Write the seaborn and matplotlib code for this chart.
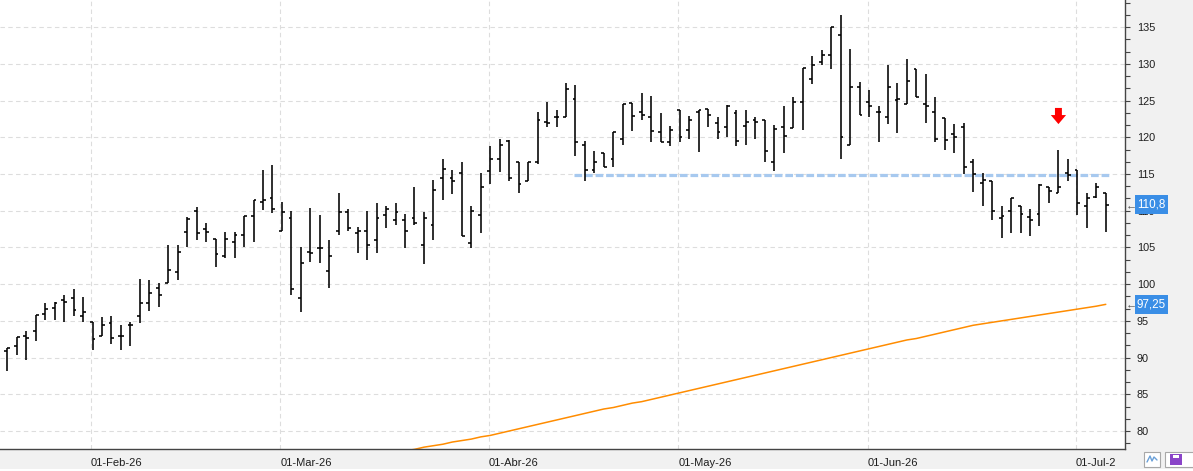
import numpy as np
import pandas as pd
import matplotlib
matplotlib.use('Agg')
import matplotlib.pyplot as plt
import seaborn as sns
from matplotlib.ticker import MultipleLocator
from matplotlib.patches import Rectangle
from matplotlib.transforms import ScaledTranslation, Bbox, TransformedBbox, blended_transform_factory

# trading days (BME holidays removed)
holidays = ['2026-04-03', '2026-04-06', '2026-05-01']
dates = pd.bdate_range('2026-01-20', '2026-07-06')
dates = dates[~dates.isin(pd.to_datetime(holidays))]

opens = [90.9, 91.6, 93.0, 93.6, 96.0, 96.8, 97.8, 98.1, 95.7, 94.9,
         93.0, 94.7, 92.9, 94.4, 95.7, 97.5, 99.5, 100.1, 101.6, 107.1,
         110.0, 107.5, 106.1, 103.8, 105.8, 106.7, 109.3, 111.2, 111.7, 107.2,
         109.0, 98.1, 104.4, 104.9, 101.8, 107.2, 109.8, 106.9, 107.2, 106.0,
         109.4, 108.7, 108.7, 109.0, 105.3, 108.0, 114.5, 114.5, 115.1, 105.6,
         109.4, 115.4, 117.1, 119.5, 116.7, 114.1, 116.7, 122.1, 122.8, 122.7,
         125.2, 118.9, 115.5, 117.9, 117.1, 119.8, 124.7, 123.5, 122.8, 120.7,
         119.3, 123.7, 121.0, 123.5, 123.9, 121.9, 121.4, 123.3, 121.5, 122.4,
         122.3, 116.7, 121.4, 121.2, 124.8, 128.0, 130.2, 131.2, 134.0, 118.9,
         126.9, 124.8, 123.5, 122.8, 125.1, 124.6, 129.3, 124.6, 123.4, 122.6,
         120.5, 121.4, 116.6, 113.8, 114.0, 109.0, 110.0, 110.6, 109.1, 109.5,
         113.3, 112.4, 115.1, 115.5, 110.7, 111.9, 112.4]
highs = [91.3, 92.8, 93.6, 95.8, 97.4, 97.6, 98.5, 99.3, 98.2, 94.9,
         95.5, 95.7, 94.4, 94.9, 100.7, 100.6, 100.2, 105.3, 105.3, 109.1,
         110.5, 108.3, 106.1, 107.1, 107.1, 109.3, 111.5, 115.5, 116.2, 111.2,
         110.0, 105.0, 110.4, 109.4, 106.0, 112.4, 110.2, 107.8, 110.0, 111.1,
         110.6, 111.1, 109.5, 113.3, 109.8, 114.2, 117.0, 115.5, 116.6, 110.6,
         115.1, 118.8, 119.8, 119.7, 116.7, 116.7, 123.5, 124.8, 123.7, 127.4,
         127.1, 119.5, 118.1, 117.9, 120.7, 124.5, 124.7, 126.1, 125.6, 123.3,
         121.5, 123.7, 122.9, 123.7, 123.9, 122.7, 124.4, 123.7, 123.7, 122.8,
         122.3, 121.7, 124.3, 125.5, 129.4, 131.1, 131.9, 135.0, 136.6, 132.0,
         127.6, 126.4, 124.3, 129.8, 127.4, 130.7, 129.3, 128.6, 125.5, 122.6,
         121.8, 122.0, 117.0, 115.1, 114.1, 110.6, 111.7, 110.6, 110.3, 113.6,
         113.3, 118.3, 117.1, 115.5, 112.4, 113.8, 112.4]
lows = [88.2, 90.3, 89.7, 92.3, 95.1, 95.1, 94.9, 95.6, 94.8, 91.1,
        92.9, 91.8, 91.0, 91.6, 94.7, 96.4, 96.9, 100.1, 100.5, 105.0,
        106.0, 105.8, 102.4, 103.6, 103.5, 105.0, 105.8, 110.1, 109.7, 107.2,
        98.5, 96.2, 103.0, 102.9, 99.5, 106.7, 107.3, 104.3, 103.3, 104.3,
        107.6, 108.0, 104.9, 108.0, 102.7, 106.0, 111.5, 112.3, 106.5, 104.9,
        106.9, 113.6, 115.3, 114.0, 112.4, 114.1, 116.4, 121.4, 121.4, 122.7,
        117.5, 114.1, 115.1, 115.9, 116.0, 119.0, 120.9, 122.4, 119.3, 119.3,
        118.8, 119.3, 119.8, 118.0, 121.4, 119.8, 120.1, 118.8, 119.0, 119.8,
        116.7, 115.4, 117.9, 121.2, 121.0, 127.3, 129.8, 129.3, 117.0, 118.9,
        123.0, 122.7, 119.3, 121.8, 120.6, 124.6, 125.5, 122.0, 119.3, 118.3,
        117.8, 115.0, 112.5, 110.7, 108.7, 106.3, 106.9, 106.9, 106.5, 107.9,
        111.0, 112.4, 114.1, 109.4, 107.7, 111.8, 107.1]
closes = [91.3, 92.8, 92.6, 95.8, 96.6, 97.5, 97.6, 96.5, 96.2, 92.5,
          94.5, 92.6, 92.9, 94.4, 97.5, 98.8, 98.5, 101.9, 104.4, 108.9,
          107.0, 107.1, 104.1, 106.1, 106.7, 109.3, 111.4, 111.4, 110.2, 109.8,
          99.3, 102.9, 104.3, 104.9, 103.9, 109.8, 107.6, 107.3, 105.3, 109.0,
          110.2, 109.8, 107.3, 108.3, 109.0, 112.8, 115.7, 114.0, 106.5, 109.9,
          113.2, 117.1, 118.9, 114.5, 113.6, 116.6, 122.4, 121.9, 122.7, 126.6,
          119.3, 115.5, 116.7, 115.9, 120.7, 124.5, 122.9, 123.1, 120.9, 119.3,
          121.0, 120.1, 122.3, 123.7, 123.1, 120.7, 124.3, 119.5, 122.1, 122.1,
          118.1, 121.1, 120.2, 124.8, 129.4, 129.8, 131.2, 135.0, 120.1, 126.9,
          123.0, 124.2, 123.5, 126.8, 125.2, 127.7, 125.5, 124.2, 119.8, 119.6,
          120.0, 115.9, 115.0, 114.2, 109.9, 109.3, 111.7, 109.5, 108.7, 113.5,
          112.7, 113.3, 114.9, 111.0, 111.8, 113.2, 110.8]

# long moving average, visible from 19-Mar onwards
ma_start = '2026-03-19'
ma_values = [77.3, 77.5, 77.8, 78.0, 78.2, 78.5, 78.7, 78.9, 79.2, 79.4,
             79.7, 80.0, 80.3, 80.6, 80.9, 81.2, 81.5, 81.8, 82.1, 82.4,
             82.7, 83.0, 83.2, 83.5, 83.8, 84.0, 84.3, 84.6, 84.9, 85.2,
             85.5, 85.8, 86.1, 86.4, 86.7, 87.0, 87.3, 87.6, 87.9, 88.2,
             88.5, 88.8, 89.1, 89.4, 89.7, 90.0, 90.3, 90.6, 90.9, 91.2,
             91.5, 91.8, 92.1, 92.4, 92.6, 92.9, 93.2, 93.5, 93.8, 94.1,
             94.4, 94.6, 94.8, 95.0, 95.2, 95.4, 95.6, 95.8, 96.0, 96.2,
             96.4, 96.6, 96.8, 97.0, 97.25]

# support line and signal
support_level = 114.85
support_from, support_to = '2026-04-16', '2026-07-06'
signal_date = '2026-06-29'

month_starts = ['2026-02-01', '2026-03-01', '2026-04-01', '2026-05-01', '2026-06-01', '2026-07-01']
month_labels = ['01-Feb-26', '01-Mar-26', '01-Abr-26', '01-May-26', '01-Jun-26', '01-Jul-26']

df = pd.DataFrame({'date': dates, 'open': opens, 'high': highs, 'low': lows, 'close': closes})
df['pos'] = np.arange(len(df))
ma_df = pd.DataFrame({'pos': df.loc[df['date'] >= ma_start, 'pos'].values, 'ma': ma_values})

sns.set_theme(style='white')
plt.rcParams['font.family'] = ['Liberation Sans', 'DejaVu Sans']

W, H = 1193, 471
AX_W = 1125
fig = plt.figure(figsize=(W / 100, H / 100), dpi=100, facecolor='#f1f1f1')
ax = fig.add_axes([0, 22 / H, AX_W / W, 449 / H])
ax.set_facecolor('white')

# OHLC bars
tw = 0.3
ax.vlines(df['pos'], df['low'], df['high'], color='black', lw=1.15, zorder=3)
ax.hlines(df['open'], df['pos'] - tw, df['pos'], color='black', lw=1.15, zorder=3)
ax.hlines(df['close'], df['pos'], df['pos'] + tw, color='black', lw=1.15, zorder=3)

# moving average
sns.lineplot(data=ma_df, x='pos', y='ma', ax=ax, color='#ff8c00', lw=1.1, zorder=2)

# dashed support
p0 = df.loc[df['date'] == support_from, 'pos'].iloc[0] - 0.2
p1 = df.loc[df['date'] == support_to, 'pos'].iloc[0] + 0.3
ax.hlines(support_level, p0, p1, color='#a7c9ef', lw=2.3, linestyles=(0, (2.4, 0.9)), zorder=2.5)

# red signal arrow over the spike
sp = df.loc[df['date'] == signal_date, 'pos'].iloc[0]
ax.annotate('', xy=(sp, 121.8), xytext=(sp, 124.0),
            arrowprops=dict(arrowstyle='simple,head_length=0.65,head_width=1.1,tail_width=0.5',
                            fc='#ff0000', ec='#ff0000', lw=0, shrinkA=0, shrinkB=0, mutation_scale=10))

ax.set_xlim(-0.77, 118.03)
ax.set_ylim(77.55, 138.7)

# month ticks
mpos = [df['pos'].iloc[np.searchsorted(df['date'], pd.Timestamp(m))] - 0.15 for m in month_starts]
ax.set_xticks(mpos)
ax.set_xticklabels(month_labels, ha='left', fontsize=8, color='#1e1e1e')
off = ScaledTranslation(2 / 100, 0, fig.dpi_scale_trans)
for lbl in ax.get_xticklabels():
    lbl.set_transform(lbl.get_transform() + off)
ax.tick_params(axis='x', direction='out', length=6.5, width=0.8, color='#444444', pad=0)

ax.yaxis.tick_right()
ax.yaxis.set_major_locator(MultipleLocator(5))
ax.yaxis.set_minor_locator(MultipleLocator(5 / 3))
ax.tick_params(axis='y', which='both', direction='out', length=3.5, width=0.8, color='#444444',
               labelsize=7.8, labelcolor='#1e1e1e', pad=5)
ax.set_yticks(np.arange(80, 136, 5))

ax.grid(True, which='major', color='#dddddd', linestyle=(0, (4, 3)), lw=0.8)
ax.set_axisbelow(True)
for s in ['top', 'left']:
    ax.spines[s].set_visible(False)
for s in ['right', 'bottom']:
    ax.spines[s].set_color('#444444')
    ax.spines[s].set_linewidth(1.0)
ax.set_xlabel('')
ax.set_ylabel('')

# last value flags on the price axis (box 33 px wide, 19 px tall)
flag_tr = blended_transform_factory(ax.transAxes, ax.transData)
box_h = 19 / 449 * (138.7 - 77.55)
flags = [(df['close'].iloc[-1], f"{df['close'].iloc[-1]:.1f}".replace('.', ',')),
         (ma_values[-1], f"{ma_values[-1]:.2f}".replace('.', ','))]
for val, txt in flags:
    ax.add_patch(Rectangle((1 + 10 / AX_W, val - box_h / 2), 33 / AX_W, box_h, transform=flag_tr,
                           fc='#3a8ee6', ec='none', clip_on=False, zorder=5))
    ax.text(1 + 26.5 / AX_W, val, txt, transform=flag_tr, ha='center', va='center',
            color='white', fontsize=8.4, clip_on=False, zorder=6)
    ax.text(1 + 1 / AX_W, val, '←', transform=flag_tr, ha='left', va='center',
            color='#555555', fontsize=8, clip_on=False, zorder=6)

# small toolbar buttons at the bottom right
def fr(x, y):
    return (x / W, 1 - y / H)

fig.patches.append(Rectangle(fr(0, 471), 1, 2 / H, transform=fig.transFigure, fc='white', ec='none'))
fig.patches.append(Rectangle(fr(1144, 467), 16 / W, 15 / H, transform=fig.transFigure,
                             fc='white', ec='#a8a8a8', lw=0.8))
fig.lines.append(plt.Line2D([1147 / W, 1150 / W, 1152 / W, 1154 / W, 1157 / W],
                            [1 - 462 / H, 1 - 456 / H, 1 - 461 / H, 1 - 457 / H, 1 - 460 / H],
                            transform=fig.transFigure, color='#6aa0d8', lw=1.0))
fig.patches.append(Rectangle(fr(1165, 467), 30 / W, 15 / H, transform=fig.transFigure,
                             fc='white', ec='#a8a8a8', lw=0.8))
fig.patches.append(Rectangle(fr(1170, 465), 12 / W, 11 / H, transform=fig.transFigure,
                             fc='#8a44c8', ec='none'))
fig.patches.append(Rectangle(fr(1173, 458), 6 / W, 3 / H, transform=fig.transFigure,
                             fc='white', ec='none'))

# the last date label is cut off by the price axis panel ("01-Jul-2")
fig.canvas.draw()
r = fig.canvas.get_renderer()
last = ax.get_xticklabels()[-1]
tmp = fig.text(0, 0, last.get_text()[:-1], fontsize=last.get_fontsize())
cut_x = last.get_window_extent(r).x0 + tmp.get_window_extent(r).width - 1.0
tmp.remove()
clip = TransformedBbox(Bbox([[0, 0], [cut_x, fig.bbox.height]]), matplotlib.transforms.IdentityTransform())
for lbl in ax.get_xticklabels():
    lbl.set_clip_on(True)
    lbl.set_clip_box(clip)

plt.savefig('out.png', dpi=100, facecolor=fig.get_facecolor())
